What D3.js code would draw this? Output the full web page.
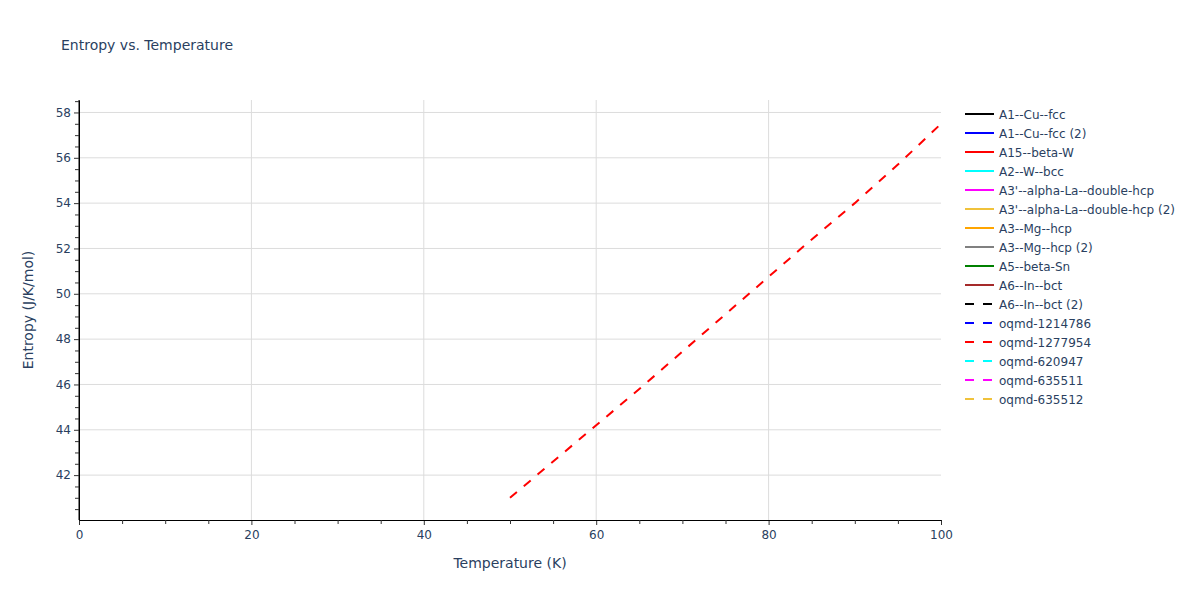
<!DOCTYPE html>
<html>
<head>
<meta charset="utf-8">
<script src="https://cdn.jsdelivr.net/npm/d3@7"></script>
<style>
  body { margin: 0; background: #fff; }
  text { font-family: "DejaVu Sans", verdana, arial, sans-serif; fill: #2a3f5f; }
</style>
</head>
<body>
<div id="chart"></div>
<script>
// legend entries (only oqmd-1277954 has points inside the visible range)
const seriesNames = [
    "A1--Cu--fcc", "A1--Cu--fcc (2)", "A15--beta-W", "A2--W--bcc",
    "A3'--alpha-La--double-hcp", "A3'--alpha-La--double-hcp (2)",
    "A3--Mg--hcp", "A3--Mg--hcp (2)", "A5--beta-Sn", "A6--In--bct",
    "A6--In--bct (2)", "oqmd-1214786", "oqmd-1277954", "oqmd-620947",
    "oqmd-635511", "oqmd-635512"
];
const seriesColors = [
    "black", "blue", "red", "cyan", "magenta", "#f0c23b", "orange", "gray",
    "green", "brown", "black", "blue", "red", "cyan", "magenta", "#f0c23b"
];
const seriesDashed = [
    false, false, false, false, false, false, false, false, false, false,
    true, true, true, true, true, true
];

// oqmd-1277954
const temperature = [50, 55, 60, 65, 70, 75, 80, 85, 90, 95, 100];
const entropy = [41.0, 42.6, 44.2, 45.8, 47.45, 49.1, 50.75, 52.4, 54.0, 55.7, 57.5];

const xTicks = [0, 20, 40, 60, 80, 100];
const yTicks = [42, 44, 46, 48, 50, 52, 54, 56, 58];

const width = 1200, height = 600;
const plotLeft = 79, plotRight = 941, plotTop = 100, plotBottom = 520;

const svg = d3.select("#chart")
    .append("svg")
    .attr("width", width)
    .attr("height", height);

const x = d3.scaleLinear().domain([0, 100]).range([plotLeft, plotRight]);
const y = d3.scaleLinear().domain([40.02, 58.55]).range([plotBottom, plotTop]);

// grid
svg.append("g")
    .selectAll("line")
    .data(xTicks.filter(d => d > 0 && d < 100))
    .enter()
    .append("line")
    .attr("x1", d => x(d)).attr("x2", d => x(d))
    .attr("y1", plotTop).attr("y2", plotBottom)
    .attr("stroke", "#dcdcdc");

svg.append("g")
    .selectAll("line")
    .data(yTicks)
    .enter()
    .append("line")
    .attr("x1", plotLeft).attr("x2", plotRight)
    .attr("y1", d => y(d)).attr("y2", d => y(d))
    .attr("stroke", "#dcdcdc");

// axes
const xAxis = svg.append("g")
    .attr("transform", `translate(0,${plotBottom})`)
    .call(d3.axisBottom(x).tickValues(xTicks).tickSize(5).tickPadding(5).tickSizeOuter(0));
const xMinor = svg.append("g")
    .attr("transform", `translate(0,${plotBottom})`)
    .call(d3.axisBottom(x).tickValues(d3.range(5, 100, 5).filter(d => d % 20 !== 0)).tickSize(4).tickFormat("").tickSizeOuter(0));

const yAxis = svg.append("g")
    .attr("transform", `translate(${plotLeft},0)`)
    .call(d3.axisLeft(y).tickValues(yTicks).tickSize(5).tickPadding(3).tickSizeOuter(0));
const yMinor = svg.append("g")
    .attr("transform", `translate(${plotLeft},0)`)
    .call(d3.axisLeft(y).tickValues(d3.range(40.5, 58.6, 0.5).filter(d => d % 2 !== 0)).tickSize(4).tickFormat("").tickSizeOuter(0));

[xAxis, xMinor, yAxis, yMinor].forEach(g => {
    g.select(".domain").attr("stroke", "black").attr("stroke-width", 1);
    g.selectAll(".tick line").attr("stroke", "#333");
    g.selectAll(".tick text").style("font-size", "12px").attr("fill", "#2a3f5f");
});
yAxis.select(".domain").attr("d", `M0,${plotTop}V${plotBottom}`);

// line
const line = d3.line().x((d, i) => x(temperature[i])).y(d => y(d));
svg.append("path")
    .datum(entropy)
    .attr("d", line)
    .attr("fill", "none")
    .attr("stroke", "red")
    .attr("stroke-width", 2)
    .attr("stroke-dasharray", "9,9");

// titles
svg.append("text")
    .attr("x", 61).attr("y", 50)
    .style("font-size", "14px")
    .text("Entropy vs. Temperature");

svg.append("text")
    .attr("x", (plotLeft + plotRight) / 2).attr("y", 568)
    .attr("text-anchor", "middle")
    .style("font-size", "14px")
    .text("Temperature (K)");

svg.append("text")
    .attr("transform", `translate(33,${(plotTop + plotBottom) / 2}) rotate(-90)`)
    .attr("text-anchor", "middle")
    .style("font-size", "14px")
    .text("Entropy (J/K/mol)");

// legend
const legend = svg.append("g")
    .selectAll("g")
    .data(seriesNames)
    .enter()
    .append("g")
    .attr("transform", (d, i) => `translate(965,${114 + i * 19})`);

legend.append("line")
    .attr("x1", 0).attr("x2", 29)
    .attr("stroke", (d, i) => seriesColors[i])
    .attr("stroke-width", 2)
    .attr("stroke-dasharray", (d, i) => seriesDashed[i] ? "9,9" : null);

legend.append("text")
    .attr("x", 34).attr("y", 4.5)
    .style("font-size", "12px")
    .text(d => d);
</script>
</body>
</html>
